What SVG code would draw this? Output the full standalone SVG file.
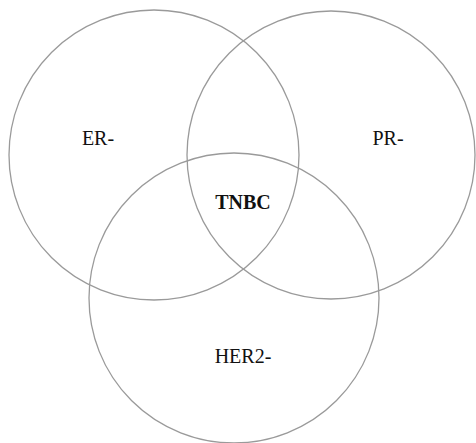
<svg xmlns="http://www.w3.org/2000/svg" width="476" height="443" viewBox="0 0 476 443">
<style>
.c{fill:none;stroke:#9a9a9a;stroke-width:1.3}
.t{font-family:"Liberation Serif",serif;font-size:20px;fill:#111;text-anchor:middle}
.b{font-weight:bold}
</style>
<rect width="476" height="443" fill="#fff"/>
<g id="er"><circle class="c" cx="154" cy="155" r="145"/><text class="t" x="98" y="145">ER-</text></g>
<g id="pr"><circle class="c" cx="331" cy="155" r="144"/><text class="t" x="388" y="145">PR-</text></g>
<g id="her2"><circle class="c" cx="234" cy="298" r="145"/><text class="t" x="243" y="363">HER2-</text></g>
<g id="tnbc"><text class="t b" x="243" y="209">TNBC</text></g>
<g id="connectors"/>
</svg>
